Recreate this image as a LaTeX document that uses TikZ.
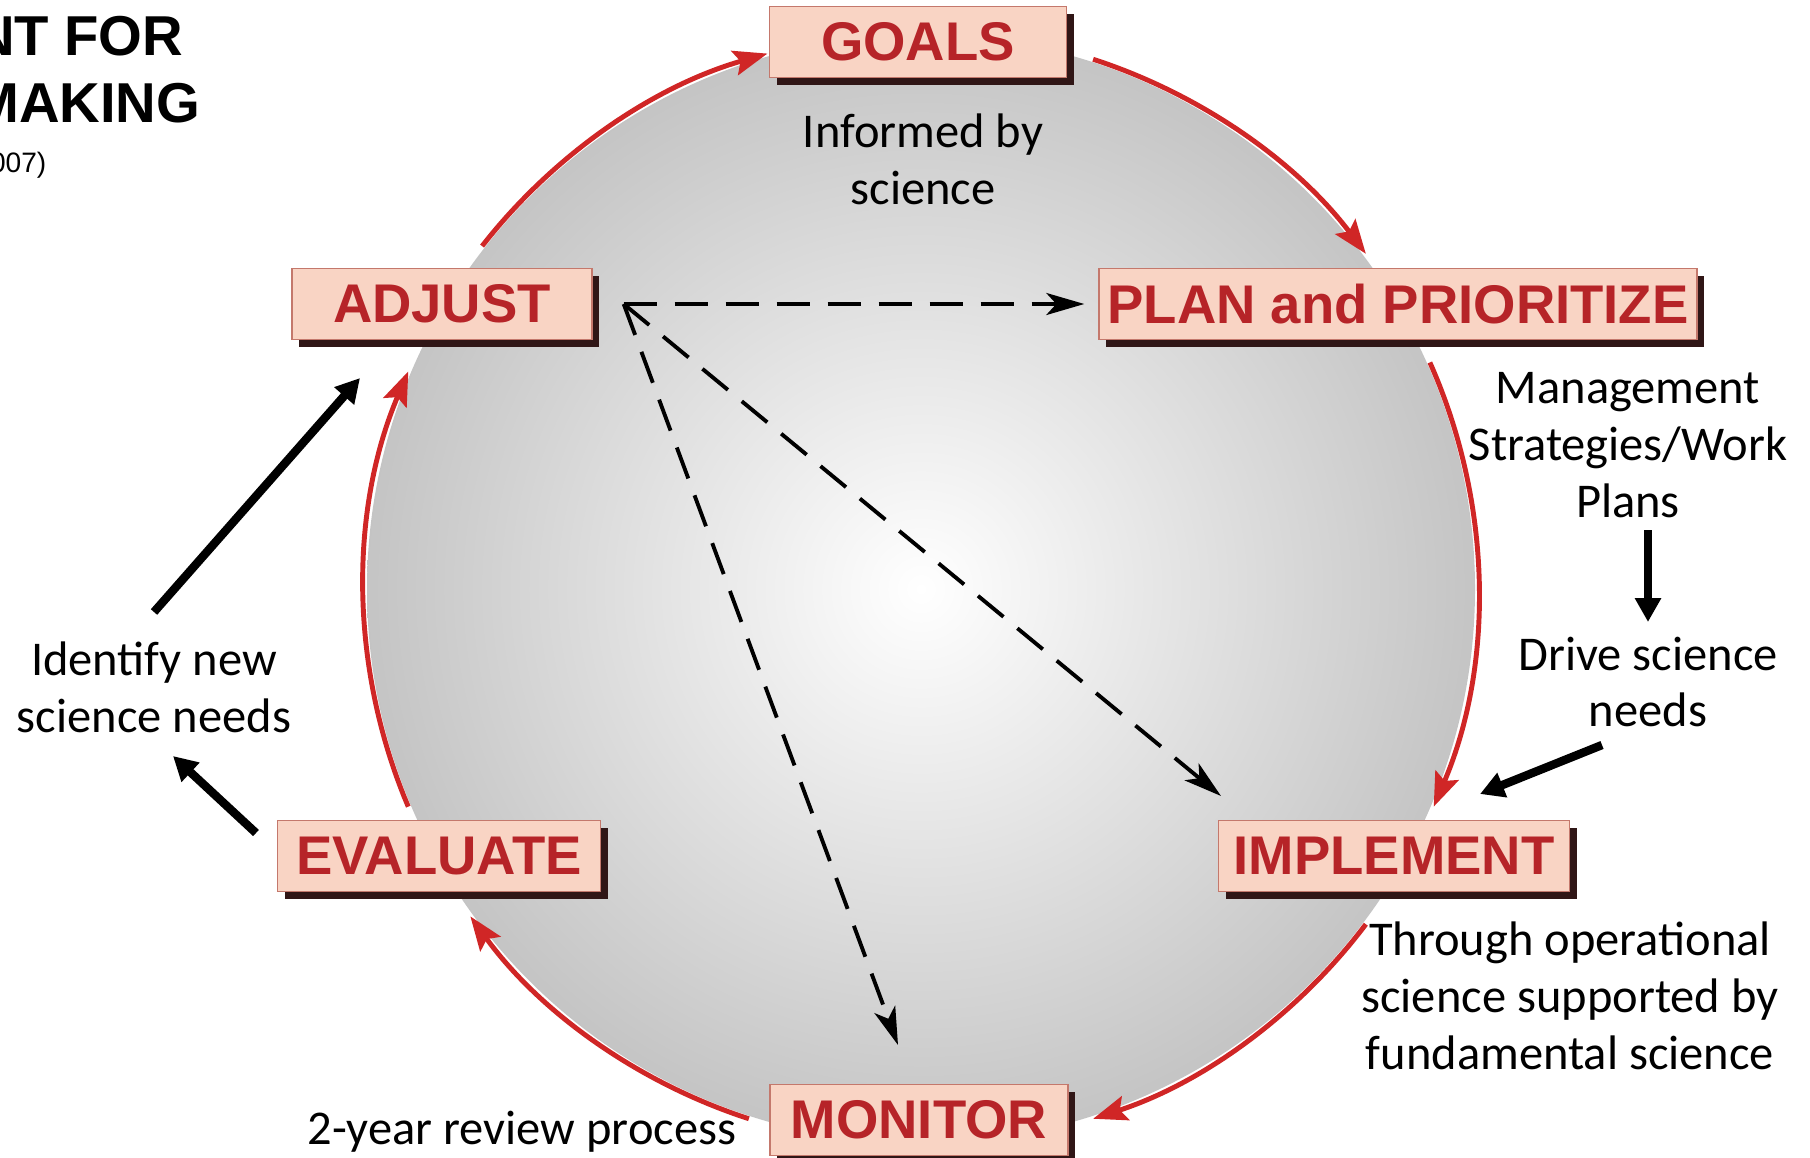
\documentclass[tikz,border=0pt]{standalone}
\usepackage{fontspec}
\setmainfont{Carlito}
\newfontfamily\headfont{Liberation Sans}
\usetikzlibrary{shadows,arrows.meta,calc}
\definecolor{stagefill}{RGB}{249,212,196}
\definecolor{stagedraw}{RGB}{196,120,108}
\definecolor{stagetext}{RGB}{182,36,40}
\definecolor{stageshadow}{RGB}{48,22,22}
\definecolor{cyclered}{RGB}{208,38,38}

\begin{document}
\begin{tikzpicture}
  [stage/.style={shape=rectangle,draw=stagedraw,fill=stagefill,text=stagetext,
     font=\headfont\bfseries\fontsize{15.5}{18}\selectfont,
     minimum height=0.71cm,inner sep=0pt,
     general shadow={fill=stageshadow,shadow xshift=0.07cm,shadow yshift=-0.07cm}},
   note/.style={align=center,font=\fontsize{13.8}{16.2}\selectfont,inner sep=0pt},
   title/.style={font=\headfont\bfseries\fontsize{16}{19}\selectfont,inner sep=0pt},
   cyc/.style={draw=cyclered,line width=1.4pt,
     -{Stealth[length=0.34cm,width=0.25cm,inset=0.06cm]}},
   link/.style={line width=1.1pt,dash pattern=on 0.33cm off 0.18cm,
     -{Stealth[length=0.38cm,width=0.22cm,inset=0.1cm]}},
   cue/.style={line width=2.4pt,-{Triangle[length=0.24cm,width=0.25cm]}}]
\useasboundingbox (0,0) rectangle (18.10,-11.57);

% title, cut by the left edge
\node[title,anchor=base east] (head1) at (1.84,-0.55) {NT FOR};
\node[title,anchor=base east] (head2) at (2.01,-1.22) {MAKING};
\node[font=\headfont\fontsize{8}{10}\selectfont,inner sep=0pt,anchor=base east]
  (head3) at (0.47,-1.72) {007)};

% the cycle
\coordinate (ctr) at (9.21,-5.89);
\shade[inner color=white,outer color=black!23] (ctr) circle (5.54);
\foreach \a/\b in {142/106,72/37,24/-23,-37/-72,-108/-144,203/157}
  \draw[cyc] ($(ctr)+(\a:5.57)$) arc[start angle=\a,end angle=\b,radius=5.57];

\node[stage,minimum width=2.97cm] (goals) at (9.18,-0.42) {GOALS};
\node[stage,minimum width=5.98cm] (plan) at (13.98,-3.04) {PLAN and PRIORITIZE};
\node[stage,minimum width=3.51cm] (implement) at (13.94,-8.56) {IMPLEMENT};
\node[stage,minimum width=2.98cm] (monitor) at (9.19,-11.20) {MONITOR};
\node[stage,minimum width=3.23cm] (evaluate) at (4.39,-8.56) {EVALUATE};
\node[stage,minimum width=3.00cm] (adjust) at (4.42,-3.04) {ADJUST};

% texts
\node[note] (informed) at (9.23,-1.59) {Informed by\\science};
\node[note] (strategies) at (16.28,-4.45) {Management\\Strategies/Work\\Plans};
\node[note] (drive) at (16.48,-6.82) {Drive science\\needs};
\node[note] (identify) at (1.54,-6.87) {Identify new\\science needs};
\node[note] (through) at (15.70,-9.96)
  {Through operational\\science supported by\\fundamental science};
\node[note] (review) at (5.22,-11.32) {2-year review process};

% dashed links out of ADJUST
\coordinate (hub) at ([xshift=0.31cm]adjust.east);
\coordinate (toimpl) at (12.21,-7.96);
\coordinate (tomon) at (8.98,-10.45);
\draw[link,shorten >=0.14cm] (hub) -- (plan.west);
\draw[link] (hub) -- (toimpl);
\draw[link] (hub) -- (tomon);

% solid arrows
\coordinate (idfrom) at (1.54,-6.12);
\coordinate (idto) at (3.60,-3.78);
\coordinate (evfrom) at (2.56,-8.33);
\coordinate (evto) at (1.73,-7.56);
\coordinate (wpfrom) at (16.48,-5.30);
\coordinate (wpto) at (16.48,-6.22);
\coordinate (drfrom) at (16.02,-7.45);
\coordinate (drto) at (14.80,-7.94);
\draw[cue] (idfrom) -- (idto);
\draw[cue] (evfrom) -- (evto);
\draw[cue] (wpfrom) -- (wpto);
\draw[cue] (drfrom) -- (drto);
\end{tikzpicture}
\end{document}
